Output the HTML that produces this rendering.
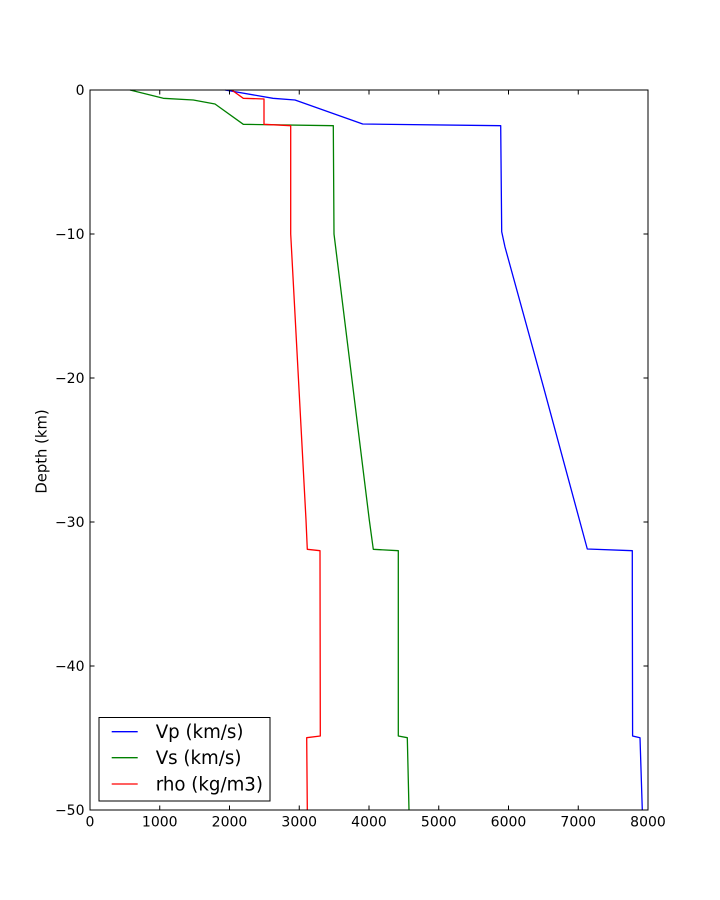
<!DOCTYPE html>
<html>
<head>
<meta charset="utf-8">
<style>
html,body{margin:0;padding:0;background:#fff;}
svg{display:block;}
text{font-family:"DejaVu Sans","Liberation Sans",sans-serif;fill:#000;}
</style>
</head>
<body>
<svg width="720" height="900" viewBox="0 0 720 900" xmlns="http://www.w3.org/2000/svg">
<rect x="0" y="0" width="720" height="900" fill="#fff"/>

<!-- series -->
<g fill="none" stroke-width="1.3" stroke-linejoin="round">
  <polyline stroke="#0000ff" points="225,90 273,98.3 295,100 362.7,124 500.7,125.7 501.7,231.7 505,247 543.4,386.7 587.3,549 632.3,550.7 632.3,585 632.6,736 640,737.7 642.3,810"/>
  <polyline stroke="#008000" points="130,90 163.3,98.3 193.3,100 215,104 243.3,124.3 333.3,125.7 334,234 369.3,520 373.3,549.3 398.3,550.7 398.3,736 407.3,737.7 409,810"/>
  <polyline stroke="#ff0000" points="231.7,90 243.3,98.3 264,99 264,124.3 290.7,125.7 290.7,234 306,520 307.3,549.3 320,550.7 320.3,736 306.7,737.7 307.3,810"/>
</g>

<!-- axes frame -->
<rect x="90" y="90" width="558" height="720" fill="none" stroke="#000" stroke-width="1"/>

<!-- x ticks -->
<g stroke="#000" stroke-width="1">
  <line x1="90" y1="810" x2="90" y2="805.5"/><line x1="90" y1="90" x2="90" y2="94.5"/>
  <line x1="159.75" y1="810" x2="159.75" y2="805.5"/><line x1="159.75" y1="90" x2="159.75" y2="94.5"/>
  <line x1="229.5" y1="810" x2="229.5" y2="805.5"/><line x1="229.5" y1="90" x2="229.5" y2="94.5"/>
  <line x1="299.25" y1="810" x2="299.25" y2="805.5"/><line x1="299.25" y1="90" x2="299.25" y2="94.5"/>
  <line x1="369" y1="810" x2="369" y2="805.5"/><line x1="369" y1="90" x2="369" y2="94.5"/>
  <line x1="438.75" y1="810" x2="438.75" y2="805.5"/><line x1="438.75" y1="90" x2="438.75" y2="94.5"/>
  <line x1="508.5" y1="810" x2="508.5" y2="805.5"/><line x1="508.5" y1="90" x2="508.5" y2="94.5"/>
  <line x1="578.25" y1="810" x2="578.25" y2="805.5"/><line x1="578.25" y1="90" x2="578.25" y2="94.5"/>
  <line x1="648" y1="810" x2="648" y2="805.5"/><line x1="648" y1="90" x2="648" y2="94.5"/>
</g>
<!-- y ticks -->
<g stroke="#000" stroke-width="1">
  <line x1="90" y1="90" x2="94.5" y2="90"/><line x1="648" y1="90" x2="643.5" y2="90"/>
  <line x1="90" y1="234" x2="94.5" y2="234"/><line x1="648" y1="234" x2="643.5" y2="234"/>
  <line x1="90" y1="378" x2="94.5" y2="378"/><line x1="648" y1="378" x2="643.5" y2="378"/>
  <line x1="90" y1="522" x2="94.5" y2="522"/><line x1="648" y1="522" x2="643.5" y2="522"/>
  <line x1="90" y1="666" x2="94.5" y2="666"/><line x1="648" y1="666" x2="643.5" y2="666"/>
  <line x1="90" y1="810" x2="94.5" y2="810"/><line x1="648" y1="810" x2="643.5" y2="810"/>
</g>

<!-- x tick labels -->
<g font-size="14" text-anchor="middle">
  <text x="90" y="826.5">0</text>
  <text x="159.75" y="826.5">1000</text>
  <text x="229.5" y="826.5">2000</text>
  <text x="299.25" y="826.5">3000</text>
  <text x="369" y="826.5">4000</text>
  <text x="438.75" y="826.5">5000</text>
  <text x="508.5" y="826.5">6000</text>
  <text x="578.25" y="826.5">7000</text>
  <text x="648" y="826.5">8000</text>
</g>
<!-- y tick labels -->
<g font-size="14" text-anchor="end">
  <text x="84.5" y="95">0</text>
  <text x="84.5" y="239">−10</text>
  <text x="84.5" y="383">−20</text>
  <text x="84.5" y="527">−30</text>
  <text x="84.5" y="671">−40</text>
  <text x="84.5" y="815">−50</text>
</g>

<!-- y label -->
<text font-size="14.8" text-anchor="middle" transform="translate(46.5,451.5) rotate(-90)">Depth (km)</text>

<!-- legend -->
<rect x="99" y="717.5" width="171" height="83.5" fill="#fff" stroke="#000" stroke-width="1"/>
<g stroke-width="1.3">
  <line x1="111.7" y1="731.7" x2="137.7" y2="731.7" stroke="#0000ff"/>
  <line x1="111.7" y1="757.7" x2="137.7" y2="757.7" stroke="#008000"/>
  <line x1="111.7" y1="784" x2="137.7" y2="784" stroke="#ff0000"/>
</g>
<g font-size="18.2">
  <text x="155.7" y="738.2">Vp (km/s)</text>
  <text x="155.7" y="764.2">Vs (km/s)</text>
  <text x="155.7" y="790.5">rho (kg/m3)</text>
</g>
</svg>
</body>
</html>
